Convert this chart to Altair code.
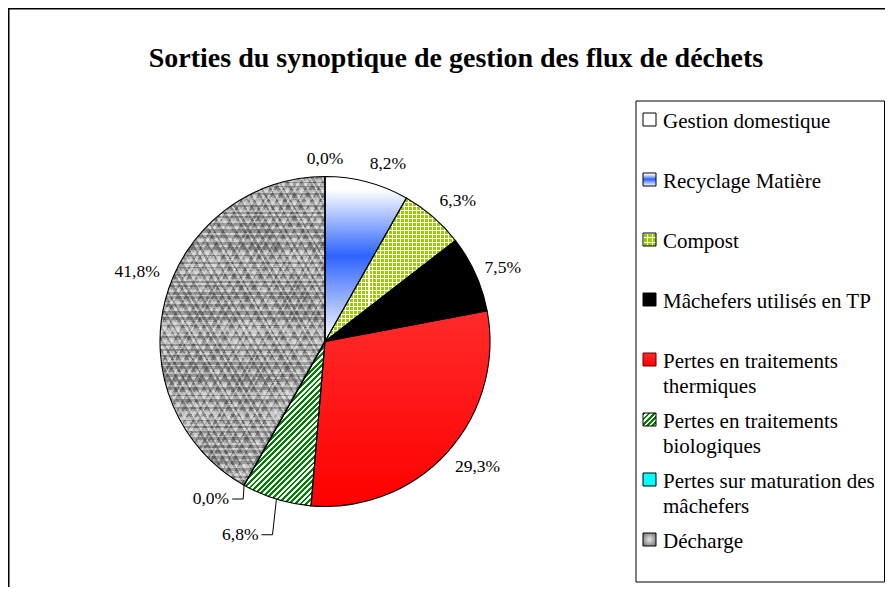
import json
import math
import textwrap

import numpy as np
import pandas as pd
import altair as alt

# ---------------- data ----------------
title_text = "Sorties du synoptique de gestion des flux de déchets"
categories = [
    "Gestion domestique",
    "Recyclage Matière",
    "Compost",
    "Mâchefers utilisés en TP",
    "Pertes en traitements thermiques",
    "Pertes en traitements biologiques",
    "Pertes sur maturation des mâchefers",
    "Décharge",
]
percent_values = [0.0, 8.2, 6.3, 7.5, 29.3, 6.8, 0.0, 41.8]

# ---------------- layout / style ----------------
W, H = 877, 579


def px(page_x):
    return page_x - 8


def py(page_y):
    return page_y - 8


CX, CY, R = px(325), py(341.5), 165.0
FONT = "Liberation Serif"
LABEL_FS = 17.5
LEGEND_FS = 21
TITLE_FS = 28
GAP = 10
LABEL_H = 16

LEG_BOX = (px(636), py(101), W - 0.5, py(582))
LEG_TX = px(663)
LEG_Y0, LEG_STEP = py(128), 60
SW_X0, SW_X1 = px(643), px(656)

label_nudge = {
    "Mâchefers utilisés en TP": (0, 6),
    "Pertes en traitements biologiques": (-15, 18),
    "Pertes sur maturation des mâchefers": (-10, -3),
    "Décharge": (4, -17),
}
leader_labels = ["Pertes en traitements biologiques", "Pertes sur maturation des mâchefers"]


def pct_label(v):
    return f"{v:.1f}%".replace(".", ",")


n_cat = len(categories)
pie_df = pd.DataFrame({
    "category": categories,
    "value": percent_values,
    "order": list(range(n_cat)),
    "label": [pct_label(v) for v in percent_values],
})
leg_df = pd.DataFrame({
    "category": categories,
    "order": list(range(n_cat)),
    "text": ["\n".join(textwrap.wrap(c, 25)) for c in categories],
})

# slice bounding boxes (for pattern gradients)
total = sum(percent_values)
bounds = {}
acc = 0.0
for c, v in zip(categories, percent_values):
    a0 = acc / total * 2 * math.pi
    a1 = (acc + v) / total * 2 * math.pi
    acc += v
    t = np.linspace(a0, a1, 361)
    xs = np.concatenate([[0.0], R * np.sin(t)])
    ys = np.concatenate([[0.0], -R * np.cos(t)])
    bounds[c] = (max(float(xs.max() - xs.min()), 1.0), max(float(ys.max() - ys.min()), 1.0))


def stop(color, off):
    return alt.GradientStop(color=color, offset=float(min(max(off, 0.0), 1.0)))


def banded(c_on, c_off, n, duty, x2, y2):
    stops = []
    for i in range(n):
        a, b, e = i / n, (i + duty) / n, (i + 1) / n
        stops += [stop(c_on, a), stop(c_on, b), stop(c_off, b), stop(c_off, e)]
    return alt.LinearGradient(gradient="linear", stops=stops, x1=0, y1=0, x2=x2, y2=y2)


def diagonal_stripes(w, h, period, c_on, c_off, duty=0.5):
    k = (w + h) / (w * w + h * h)
    n = max(1, round((w + h) / math.sqrt(2) / period))
    return banded(c_on, c_off, n, duty, w * k, h * k)


def dot_masks(w, h, period, line):
    clear = "rgba(255,255,255,0)"
    nx = max(1, round(w / period))
    ny = max(1, round(h / period))
    vert = banded("#ffffff", clear, nx, line * nx / w, 1, 0)
    horiz = banded("#ffffff", clear, ny, line * ny / h, 0, 1)
    return [vert, horiz]


def speckle(w, h, phi_deg, phase, alpha):
    """Irregular thin bands (dark / light / clear) along direction phi: mottled grey texture."""
    phi = math.radians(phi_deg)
    cs, sn = math.cos(phi), math.sin(phi)
    span = w * abs(cs) + h * abs(sn)
    k = span / (w * w * cs * cs + h * h * sn * sn)
    x1 = 0 if cs >= 0 else 1
    y1 = 0 if sn >= 0 else 1
    x2 = x1 + k * w * cs
    y2 = y1 + k * h * sn
    dark = f"rgba(60,60,60,{alpha})"
    light = f"rgba(240,240,240,{alpha})"
    clear = "rgba(128,128,128,0)"
    stops = []
    pos, i = 0.0, 0
    while pos < span:
        u = (i * 0.6180339887 + phase) % 1.0
        bw = 1.3 + 2.2 * ((i * 0.41421356 + phase * 1.7) % 1.0)
        col = dark if u < 0.36 else (light if u < 0.72 else clear)
        stops += [stop(col, pos / span), stop(col, min(pos + bw, span) / span)]
        pos += bw
        i += 1
    return alt.LinearGradient(gradient="linear", stops=stops, x1=x1, y1=y1, x2=x2, y2=y2)


recycl_grad = alt.LinearGradient(
    gradient="linear", x1=0, y1=0, x2=0, y2=1,
    stops=[stop("#ffffff", 0), stop("#ffffff", 0.08), stop("#2d63ff", 0.48), stop("#ffffff", 1)],
)
thermal_grad = alt.LinearGradient(
    gradient="linear", x1=0, y1=0, x2=0, y2=1,
    stops=[stop("#ff2b2b", 0), stop("#ff0000", 1)],
)
decharge_swatch = alt.RadialGradient(
    gradient="radial", x1=0.5, y1=0.5, x2=0.5, y2=0.5, r1=0, r2=0.6,
    stops=[stop("#e6e6e6", 0), stop("#7a7a7a", 1)],
)

SW = SW_X1 - SW_X0
bio = categories[5]
dech = categories[7]
dw, dh = bounds[dech]
arc_fill = {
    categories[0]: "#ffffff",
    categories[1]: recycl_grad,
    categories[2]: "#99cc00",
    categories[3]: "#000000",
    categories[4]: thermal_grad,
    categories[5]: diagonal_stripes(bounds[bio][0], bounds[bio][1], 3.9, "#008000", "#ffffff"),
    categories[6]: "#00ffff",
    categories[7]: "#a7a7a7",
}
arc_overlays = {
    categories[2]: dot_masks(bounds[categories[2]][0], bounds[categories[2]][1], 4.0, 1.05),
    categories[7]: [
        speckle(dw, dh, 30, 0.13, 0.38),
        speckle(dw, dh, 150, 0.57, 0.38),
        speckle(dw, dh, 90, 0.81, 0.30),
    ],
}

swatch_fill = dict(arc_fill)
swatch_fill[categories[5]] = diagonal_stripes(SW, SW, 3.9, "#008000", "#ffffff")
swatch_fill[categories[7]] = decharge_swatch
swatch_overlays = {categories[2]: dot_masks(SW, SW, 4.0, 1.05)}
swatch_stroke = {categories[4]: "#600000"}


# ---------------- pie ----------------
def pie_base():
    return (
        alt.Chart(pie_df)
        .transform_joinaggregate(total="sum(value)")
        .transform_window(cum="sum(value)", sort=[alt.SortField("order")], frame=[None, 0])
        .transform_calculate(
            f0="(datum.cum - datum.value) / datum.total",
            f1="datum.cum / datum.total",
        )
    )


def arc_enc():
    return dict(
        theta=alt.Theta("f0:Q", scale=alt.Scale(domain=[0, 1], range=[0, 2 * math.pi])),
        theta2=alt.Theta2("f1:Q"),
        x=alt.value(CX),
        y=alt.value(CY),
    )


layers = []

# outer frame (top and left edges visible)
one = pd.DataFrame({"k": [0]})
layers.append(alt.Chart(one).mark_rule(color="black", strokeWidth=1.5).encode(
    x=alt.value(0.75), y=alt.value(0), y2=alt.value(H)))
layers.append(alt.Chart(one).mark_rule(color="black", strokeWidth=1.5).encode(
    y=alt.value(0.75), x=alt.value(0), x2=alt.value(W)))

# legend box
layers.append(alt.Chart(one).mark_rect(fill="white", stroke="black", strokeWidth=1).encode(
    x=alt.value(LEG_BOX[0]), y=alt.value(LEG_BOX[1]), x2=alt.value(LEG_BOX[2]), y2=alt.value(LEG_BOX[3])))

for c in categories:
    layers.append(
        pie_base().transform_filter(alt.datum.category == c)
        .mark_arc(radius=R, fill=arc_fill[c]).encode(**arc_enc())
    )
    for ov in arc_overlays.get(c, []):
        layers.append(
            pie_base().transform_filter(alt.datum.category == c)
            .mark_arc(radius=R, fill=ov).encode(**arc_enc())
        )

layers.append(
    pie_base().mark_arc(radius=R, fillOpacity=0, stroke="black", strokeWidth=1.1).encode(**arc_enc())
)


def nudge_expr(k):
    e = "0"
    for cat, d in label_nudge.items():
        e = f"(datum.category === {json.dumps(cat, ensure_ascii=False)} ? {d[k]} : {e})"
    return e


def label_base():
    return pie_base().transform_calculate(
        mid="(datum.f0 + datum.f1) * PI",
        s="sin(datum.mid)",
        c="cos(datum.mid)",
        w=f"(length(datum.label) - 2) * {0.5 * LABEL_FS} + {1.083 * LABEL_FS}",
        sx="datum.s > 0.001 ? 1 : (datum.s < -0.001 ? -1 : 0)",
        sy="datum.c > 0.001 ? 1 : (datum.c < -0.001 ? -1 : 0)",
        ex=f"{CX} + {R} * datum.s",
        ey=f"{CY} - {R} * datum.c",
        nx=nudge_expr(0),
        ny=nudge_expr(1),
        lx=f"datum.ex + {GAP} * datum.s + datum.sx * datum.w / 2 + datum.nx",
        ly=f"datum.ey - {GAP} * datum.c - datum.sy * {LABEL_H / 2} + datum.ny",
        bx="datum.lx + datum.w / 2 + 14",
        tx="datum.lx + datum.w / 2 + 3",
    )


layers.append(
    label_base().mark_text(font=FONT, fontSize=LABEL_FS, color="black", align="center", baseline="middle")
    .encode(
        x=alt.X("lx:Q", scale=None, axis=None),
        y=alt.Y("ly:Q", scale=None, axis=None),
        text="label:N",
    )
)
leader_filter = alt.FieldOneOfPredicate(field="category", oneOf=leader_labels)
layers.append(
    label_base().transform_filter(leader_filter).mark_rule(color="black", strokeWidth=1)
    .encode(x=alt.X("ex:Q", scale=None, axis=None), y=alt.Y("ey:Q", scale=None, axis=None),
            x2="bx:Q", y2="ly:Q")
)
layers.append(
    label_base().transform_filter(leader_filter).mark_rule(color="black", strokeWidth=1)
    .encode(x=alt.X("tx:Q", scale=None, axis=None), y=alt.Y("ly:Q", scale=None, axis=None),
            x2="bx:Q", y2="ly:Q")
)


# ---------------- legend ----------------
def leg_base():
    return alt.Chart(leg_df).transform_calculate(
        ty=f"{LEG_Y0} + {LEG_STEP} * datum.order",
        sy0=f"{LEG_Y0 - 15} + {LEG_STEP} * datum.order",
        sy1=f"{LEG_Y0 - 15 + SW} + {LEG_STEP} * datum.order",
    )


for c in categories:
    layers.append(
        leg_base().transform_filter(alt.datum.category == c)
        .mark_rect(fill=swatch_fill[c])
        .encode(x=alt.value(SW_X0), x2=alt.value(SW_X1),
                y=alt.Y("sy0:Q", scale=None, axis=None), y2="sy1:Q")
    )
    for ov in swatch_overlays.get(c, []):
        layers.append(
            leg_base().transform_filter(alt.datum.category == c)
            .mark_rect(fill=ov)
            .encode(x=alt.value(SW_X0), x2=alt.value(SW_X1),
                    y=alt.Y("sy0:Q", scale=None, axis=None), y2="sy1:Q")
        )
    layers.append(
        leg_base().transform_filter(alt.datum.category == c)
        .mark_rect(fillOpacity=0, stroke=swatch_stroke.get(c, "black"), strokeWidth=1)
        .encode(x=alt.value(SW_X0), x2=alt.value(SW_X1),
                y=alt.Y("sy0:Q", scale=None, axis=None), y2="sy1:Q")
    )

layers.append(
    leg_base().mark_text(font=FONT, fontSize=LEGEND_FS, color="black", align="left",
                         baseline="alphabetic", lineBreak="\n", lineHeight=25)
    .encode(x=alt.value(LEG_TX), y=alt.Y("ty:Q", scale=None, axis=None), text="text:N")
)

# ---------------- title ----------------
layers.append(
    alt.Chart(pd.DataFrame({"t": [title_text]}))
    .mark_text(font=FONT, fontSize=TITLE_FS, fontWeight="bold", color="black",
               align="center", baseline="alphabetic")
    .encode(x=alt.value(px(456)), y=alt.value(py(66.5)), text="t:N")
)

chart = (
    alt.layer(*layers)
    .properties(width=W, height=H, padding=0,
                autosize=alt.AutoSizeParams(type="none"), background="white")
    .configure_view(stroke=None)
)

chart.save("out.html", embed_options={"renderer": "svg", "actions": False})
